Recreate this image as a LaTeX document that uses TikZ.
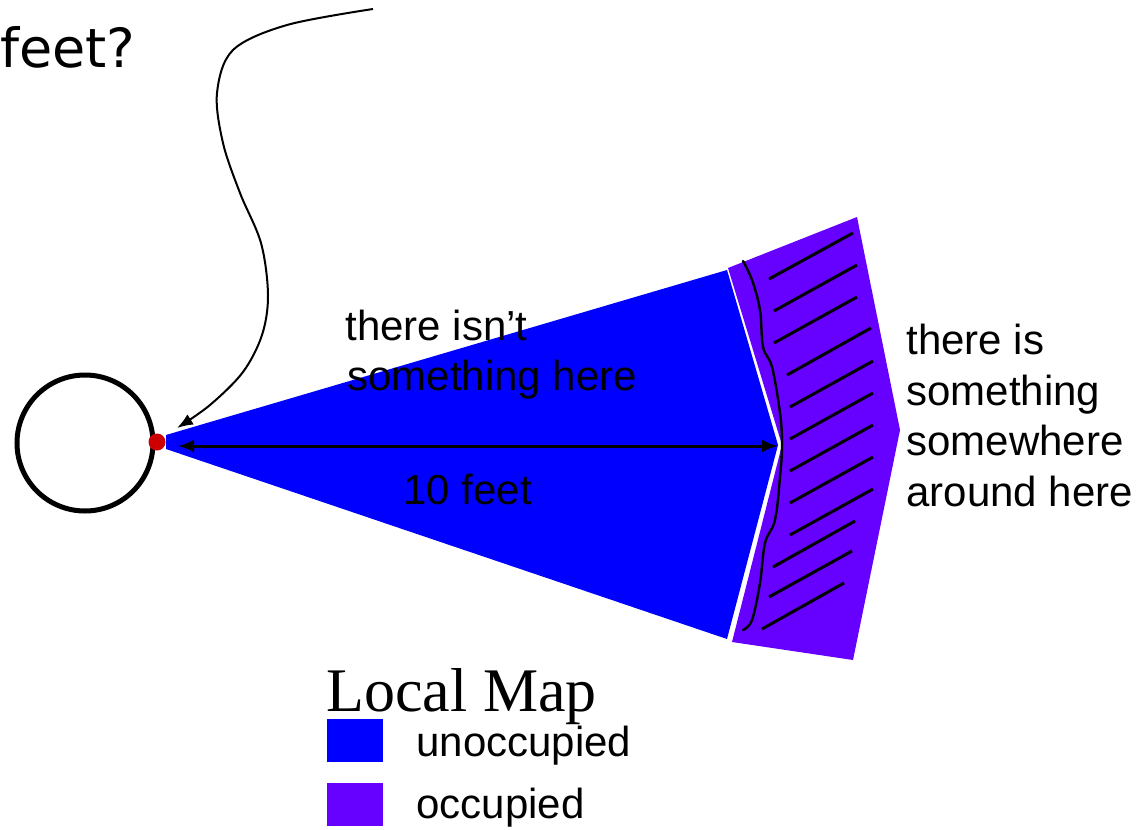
\documentclass[tikz,border=0pt]{standalone}
\usepackage{fontspec}
\setmainfont{Liberation Sans}
\newfontfamily\tahomaish{DejaVu Sans}
\newfontfamily\serifish{Liberation Serif}
\usetikzlibrary{arrows.meta}
\definecolor{freeblue}{HTML}{0000FF}
\definecolor{occpurple}{HTML}{6600FF}
\definecolor{dotred}{HTML}{CC0000}
\tikzset{
  lbl/.style={anchor=base west,inner sep=0pt,font=\fontsize{21pt}{24pt}\selectfont},
  hatchline/.style={line width=1.5pt},
  legbox/.style={draw=none,inner sep=0pt,minimum width=28pt,minimum height=21.5pt,anchor=north west}
}
\begin{document}
\begin{tikzpicture}[x=0.5pt,y=-0.5pt]
\useasboundingbox (0,0) rectangle (1139,829);
% regions
\fill[freeblue] (166,435) -- (727,270) -- (778,445) -- (727,639) -- (166,449) -- cycle;
\fill[occpurple] (728,268) -- (857,217) -- (900,430) -- (853,660) -- (732,642) -- (782,445) -- cycle;
% wavy boundary
\draw[line width=1.2pt,line cap=round] plot[smooth,tension=0.6] coordinates {(743,261) (752,280) (760,310) (763,347) (772,367) (780,413) (782,445) (780,477) (775,520) (765,543) (760,583) (752,620) (743,630)};
% hatching
\foreach \a/\b/\c/\d in {769/279/853/233, 774/311/857/265, 774/343/857/297, 787/375/871/328, 790/407/873/361, 790/439/873/393, 790/471/873/425, 790/503/873/457, 790/535/873/489, 773/567/855/521, 769/597/852/551, 762/629/844/583}
  \draw[hatchline] (\a,\b) -- (\c,\d);
% robot and sensor
\node[circle,draw,line width=2.5pt,minimum size=68pt,inner sep=0pt] (robot) at (85,443) {};
\node[circle,fill=dotred,minimum size=8.5pt,inner sep=0pt] (sensor) at (157,442) {};
\coordinate (rangeL) at (178,446);
\coordinate (rangeR) at (778,446);
\draw[line width=1.5pt,{Latex[length=8pt,width=6.5pt]}-{Latex[length=8pt,width=6.5pt]}] (rangeL) -- (rangeR);
% pointing curve
\coordinate (curveStart) at (373,9);
\coordinate (curveEnd) at (177,428);
\draw[line width=1pt,-{Latex[length=8pt,width=6pt]}] plot[smooth,tension=0.55] coordinates {(curveStart) (287,25) (233,50) (217,93) (223,143) (240,193) (261,243) (268,295) (262,335) (243,372) (210,405) (curveEnd)};
% texts
\node[anchor=base west,inner sep=0pt,font=\tahomaish\fontsize{27pt}{30pt}\selectfont] (feet) at (0,68) {feet?};
\node[lbl] (isnt1) at (345,340) {there isn’t};
\node[lbl] (isnt2) at (347,390) {something here};
\node[lbl] (ten) at (403,504) {10 feet};
\node[lbl] (is1) at (906,354) {there is};
\node[lbl] (is2) at (906,405) {something};
\node[lbl] (is3) at (906,455) {somewhere};
\node[lbl] (is4) at (906,506) {around here};
\node[anchor=base west,inner sep=0pt,font=\serifish\fontsize{31pt}{34pt}\selectfont] (title) at (326,711) {Local Map};
\node[legbox,fill=freeblue] (legfree) at (327,719) {};
\node[legbox,fill=occpurple] (legocc) at (327,783) {};
\node[lbl] (tfree) at (416,756) {unoccupied};
\node[lbl] (tocc) at (416,818) {occupied};
\end{tikzpicture}
\end{document}
